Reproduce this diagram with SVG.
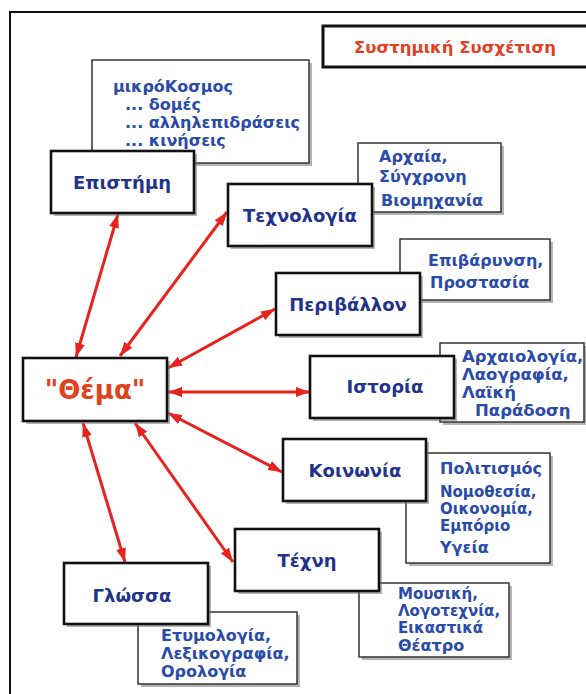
<svg xmlns="http://www.w3.org/2000/svg" width="586" height="694" viewBox="0 0 586 694">
<style>
text{font-family:"DejaVu Sans","Noto Sans",sans-serif;font-weight:bold}
.main{fill:#fff;stroke:#111;stroke-width:2.6}
.side{fill:#fff;stroke:#333;stroke-width:1.5}
.shd{fill:#777;opacity:.55}
.mt{fill:#22338c;font-size:18px;text-anchor:middle}
.st{fill:#2a4ba8;font-size:16px}
.s15{font-size:15px}
.conn{stroke:#e8231f;stroke-width:3;fill:none;marker-start:url(#ah);marker-end:url(#ah)}
</style>
<defs>
<marker id="ah" markerUnits="userSpaceOnUse" markerWidth="15" markerHeight="11" refX="14" refY="5" orient="auto-start-reverse">
<path d="M0,0 L14,5 L0,10 Z" fill="#e8231f"/>
</marker>
</defs>
<rect width="586" height="694" fill="#fff"/>
<rect x="10" y="12" width="600" height="700" fill="none" stroke="#111" stroke-width="2"/>
<g id="title">
<rect x="323" y="26" width="290" height="41" fill="#fff" stroke="#111" stroke-width="3"/>
<text x="455" y="53" style="fill:#e2401f;font-size:16.5px;text-anchor:middle">Συστημική Συσχέτιση</text>
</g>
<g id="connectors">
<line class="conn" x1="118" y1="214" x2="76" y2="357"/>
<line class="conn" x1="227" y1="212" x2="120" y2="356"/>
<line class="conn" x1="275" y1="309" x2="168" y2="368"/>
<line class="conn" x1="168" y1="392" x2="310" y2="392"/>
<line class="conn" x1="168" y1="413" x2="282" y2="472"/>
<line class="conn" x1="83" y1="423" x2="125" y2="562"/>
<line class="conn" x1="135" y1="423" x2="233" y2="562"/>
</g>
<g id="mikrokosmos">
<rect class="shd" x="95" y="63" width="217" height="103"/>
<rect class="side" x="92" y="60" width="217" height="103"/>
<text class="st" x="113" y="92">μικρόΚοσμος</text>
<text class="st" x="125" y="110">... δομές</text>
<text class="st" x="125" y="128">... αλληλεπιδράσεις</text>
<text class="st" x="125" y="146">... κινήσεις</text>
</g>
<g id="tech-details">
<rect class="shd" x="361" y="146" width="143" height="69"/>
<rect class="side" x="358" y="143" width="143" height="69"/>
<text class="st" x="379" y="162">Αρχαία,</text>
<text class="st" x="379" y="182">Σύγχρονη</text>
<text class="st" x="381" y="206">Βιομηχανία</text>
</g>
<g id="env-details">
<rect class="shd" x="403" y="242" width="150" height="61"/>
<rect class="side" x="400" y="239" width="150" height="61"/>
<text class="st" x="428" y="266">Επιβάρυνση,</text>
<text class="st" x="430" y="288">Προστασία</text>
</g>
<g id="hist-details">
<rect class="shd" x="443" y="346" width="144" height="79"/>
<rect class="side" x="440" y="343" width="144" height="79"/>
<text class="st" style="font-size:16.5px" x="462" y="362">Αρχαιολογία,</text>
<text class="st" style="font-size:16.5px" x="462" y="380">Λαογραφία,</text>
<text class="st" style="font-size:16.5px" x="462" y="398">Λαϊκή</text>
<text class="st" style="font-size:16.5px" x="475" y="416">Παράδοση</text>
</g>
<g id="soc-details">
<rect class="shd" x="409" y="456" width="144" height="110"/>
<rect class="side" x="406" y="453" width="144" height="110"/>
<text class="st" x="440" y="474">Πολιτισμός</text>
<text class="st s15" x="440" y="497">Νομοθεσία,</text>
<text class="st s15" x="440" y="514">Οικονομία,</text>
<text class="st s15" x="440" y="531">Εμπόριο</text>
<text class="st" x="440" y="553">Υγεία</text>
</g>
<g id="art-details">
<rect class="shd" x="362" y="586" width="150" height="74"/>
<rect class="side" x="359" y="583" width="150" height="74"/>
<text class="st s15" x="398" y="599">Μουσική,</text>
<text class="st s15" x="398" y="616">Λογοτεχνία,</text>
<text class="st s15" x="398" y="633">Εικαστικά</text>
<text class="st" x="398" y="651">Θέατρο</text>
</g>
<g id="lang-details">
<rect class="shd" x="141" y="615" width="159" height="72"/>
<rect class="side" x="138" y="612" width="159" height="72"/>
<text class="st" x="161" y="641">Ετυμολογία,</text>
<text class="st" x="161" y="659">Λεξικογραφία,</text>
<text class="st" x="161" y="677">Ορολογία</text>
</g>
<g id="episteme">
<rect class="shd" x="54" y="154" width="143" height="62"/>
<rect class="main" x="51" y="151" width="143" height="62"/>
<text class="mt" x="122" y="189">Επιστήμη</text>
</g>
<g id="technologia">
<rect class="shd" x="231" y="187" width="144" height="62"/>
<rect class="main" x="228" y="184" width="144" height="62"/>
<text class="mt" x="300" y="222">Τεχνολογία</text>
</g>
<g id="perivallon">
<rect class="shd" x="279" y="276" width="144" height="62"/>
<rect class="main" x="276" y="273" width="144" height="62"/>
<text class="mt" x="348" y="311">Περιβάλλον</text>
</g>
<g id="istoria">
<rect class="shd" x="313" y="359" width="144" height="62"/>
<rect class="main" x="310" y="356" width="144" height="62"/>
<text class="mt" x="385" y="393">Ιστορία</text>
</g>
<g id="thema">
<rect class="shd" x="26" y="361" width="144" height="63"/>
<rect class="main" x="23" y="358" width="144" height="63"/>
<text x="95" y="399" style="fill:#e3421e;font-size:26px;text-anchor:middle">"Θέμα"</text>
</g>
<g id="koinonia">
<rect class="shd" x="286" y="442" width="143" height="62"/>
<rect class="main" x="283" y="439" width="143" height="62"/>
<text class="mt" x="355" y="477">Κοινωνία</text>
</g>
<g id="techni">
<rect class="shd" x="238" y="532" width="144" height="62"/>
<rect class="main" x="235" y="529" width="144" height="62"/>
<text class="mt" x="307" y="567">Τέχνη</text>
</g>
<g id="glossa">
<rect class="shd" x="67" y="566" width="144" height="61"/>
<rect class="main" x="64" y="563" width="144" height="61"/>
<text class="mt" x="132" y="602">Γλώσσα</text>
</g>
</svg>
